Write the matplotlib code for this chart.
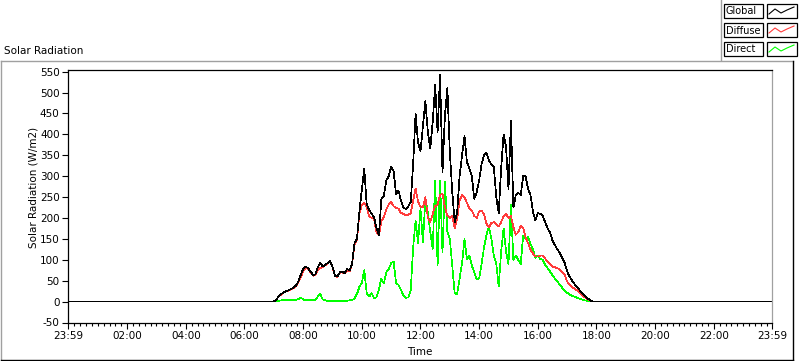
import numpy as np
import matplotlib
matplotlib.use("Agg")
import matplotlib.pyplot as plt
from matplotlib.lines import Line2D
from matplotlib.patches import Rectangle

# 5 minute samples from 07:00 to 18:00 (W/m2), zero outside that window
start_min = 7 * 60
step_min = 5
glob = [0, 5, 12, 18, 22, 25, 27, 30, 33, 38, 48, 64,           # 07
        78, 84, 80, 72, 64, 65, 82, 92, 84, 88, 92, 97,         # 08
        84, 62, 60, 70, 72, 68, 78, 74, 90, 140, 150, 215,      # 09
        268, 318, 232, 220, 210, 202, 175, 160, 245, 252, 290, 300,   # 10
        322, 312, 258, 266, 242, 224, 222, 228, 238, 330, 450, 380,   # 11
        360, 420, 480, 406, 366, 430, 518, 406, 542, 310, 446, 511,   # 12
        358, 262, 190, 214, 300, 350, 396, 334, 318, 300, 246, 262,   # 13
        290, 330, 350, 356, 338, 328, 322, 250, 212, 320, 400, 370,   # 14
        270, 432, 225, 255, 260, 255, 300, 300, 270, 255, 215, 195,   # 15
        212, 210, 205, 190, 175, 165, 146, 135, 125, 116, 104, 92,    # 16
        72, 60, 50, 42, 35, 28, 20, 14, 9, 5, 1, 0,                   # 17
        0]
diffuse = [0, 5, 12, 17, 21, 24, 26, 29, 32, 36, 45, 58,
           72, 80, 78, 70, 62, 64, 76, 80, 82, 87, 91, 96,
           83, 61, 59, 69, 70, 67, 74, 72, 88, 135, 148, 210,
           232, 236, 226, 205, 200, 198, 165, 158, 192, 202, 220, 232,
           238, 228, 224, 222, 212, 210, 206, 207, 212, 242, 270, 240,
           226, 225, 250, 200, 190, 210, 228, 232, 255, 258, 225, 205,
           200, 206, 175, 198, 242, 255, 250, 236, 222, 218, 205, 200,
           216, 218, 208, 186, 178, 188, 190, 186, 180, 190, 205, 210,
           200, 205, 178, 160, 166, 182, 176, 154, 140, 124, 115, 108,
           108, 110, 110, 103, 96, 90, 84, 82, 80, 77, 70, 64,
           48, 40, 35, 31, 27, 22, 16, 11, 7, 4, 1, 0,
           0]
direct = [0, 0, 2, 3, 3, 3, 3, 3, 4, 4, 6, 10,
          5, 4, 3, 3, 3, 4, 12, 18, 5, 3, 2, 2,
          2, 2, 2, 2, 2, 2, 2, 3, 3, 8, 18, 35,
          45, 75, 20, 12, 20, 8, 10, 30, 55, 43, 70, 78,
          92, 96, 45, 40, 28, 14, 9, 10, 26, 130, 194, 140,
          222, 142, 246, 214, 166, 126, 290, 86, 290, 118, 286, 166,
          150, 86, 20, 18, 55, 92, 150, 102, 110, 86, 70, 54,
          55, 90, 130, 160, 180, 150, 110, 90, 36, 120, 175, 120,
          90, 232, 100, 110, 100, 90, 158, 150, 155, 138, 125, 105,
          110, 102, 100, 88, 80, 72, 63, 55, 48, 40, 33, 26,
          21, 17, 14, 12, 9, 7, 5, 3, 2, 1, 0, 0,
          0]

# add the flat night part: 23:59 of the day before up to 23:59
t = start_min + step_min * np.arange(len(glob))
t = np.concatenate([[-1], t, [1439]])
glob = np.concatenate([[0], glob, [0]])
diffuse = np.concatenate([[0], diffuse, [0]])
direct = np.concatenate([[0], direct, [0]])

tick_pos = [-1, 120, 240, 360, 480, 600, 720, 840, 960, 1080, 1200, 1320, 1439]
tick_lab = ["23:59", "02:00", "04:00", "06:00", "08:00", "10:00", "12:00",
            "14:00", "16:00", "18:00", "20:00", "22:00", "23:59"]

W, H = 800, 361
def fx(x):
    return x / W
def fy(y):
    return 1 - y / H

plt.rcParams['font.family'] = ['DejaVu Sans']
plt.rcParams['axes.unicode_minus'] = False
fs = 7.5
fig = plt.figure(figsize=(8, 3.61), dpi=100)
fig.patch.set_facecolor("white")

ax = fig.add_axes([fx(68), fy(322.5), fx(772) - fx(68), fy(70) - fy(322.5)])
ax.plot(t, direct, color="#00ff00", lw=0.5, antialiased=False)
ax.plot(t, diffuse, color="#ff3b3b", lw=0.5, antialiased=False)
ax.plot(t, glob, color="black", lw=0.5, antialiased=False)

ax.set_xlim(-1, 1439)
ax.set_ylim(-50, 554)
ax.set_yticks(np.arange(-50, 551, 50))
ax.set_xticks(tick_pos)
ax.set_xticklabels(tick_lab)
minors = [m for m in range(0, 1440, 12) if m % 120 != 0]
ax.set_xticks(minors, minor=True)
ax.tick_params(axis="both", which="major", direction="out", length=4, width=0.8,
               labelsize=fs, pad=2)
ax.tick_params(axis="x", which="minor", direction="out", length=2.5, width=0.8)
for s in ["left", "top", "bottom"]:
    ax.spines[s].set_color("black")
    ax.spines[s].set_linewidth(0.9)
ax.spines["right"].set_color("#a0a0a0")
ax.spines["right"].set_linewidth(0.9)

fig.text(fx(33), fy(187), "Solar Radiation (W/m2)", rotation=90, ha="center",
         va="center", fontsize=fs)
fig.text(fx(420), fy(352), "Time", ha="center", va="center", fontsize=fs)
fig.text(fx(4), fy(51), "Solar Radiation", ha="left", va="center", fontsize=fs)

# panel frame
def seg(x0, y0, x1, y1, c, lw=1.0):
    fig.add_artist(Line2D([fx(x0), fx(x1)], [fy(y0), fy(y1)], color=c, lw=lw,
                          transform=fig.transFigure))
seg(0.5, 61, 793, 61, "#a0a0a0")
seg(0.5, 61, 0.5, 360, "#a0a0a0")
seg(793, 61, 793, 360, "black")
seg(0.5, 360, 793, 360, "black")
seg(720.5, 0, 720.5, 60, "#a0a0a0")

# legend
names = ["Global", "Diffuse", "Direct"]
colors = ["black", "#ff3b3b", "#00ff00"]
for i, (nm, c) in enumerate(zip(names, colors)):
    y0 = 4 + 19 * i
    fig.add_artist(Rectangle((fx(724), fy(y0 + 14)), fx(763) - fx(724), fy(y0) - fy(y0 + 14),
                             transform=fig.transFigure, fill=False, ec="black", lw=0.9))
    fig.add_artist(Rectangle((fx(767), fy(y0 + 14)), fx(797) - fx(767), fy(y0) - fy(y0 + 14),
                             transform=fig.transFigure, fill=False, ec="black", lw=0.9))
    fig.text(fx(726), fy(y0 + 7.5), nm, ha="left", va="center", fontsize=7)
    zx = [769, 775, 781, 787, 794]
    zy = [y0 + 10, y0 + 5, y0 + 9, y0 + 6, y0 + 3]
    fig.add_artist(Line2D([fx(v) for v in zx], [fy(v) for v in zy], color=c, lw=0.8,
                          transform=fig.transFigure))

fig.savefig("out.png", dpi=100)
